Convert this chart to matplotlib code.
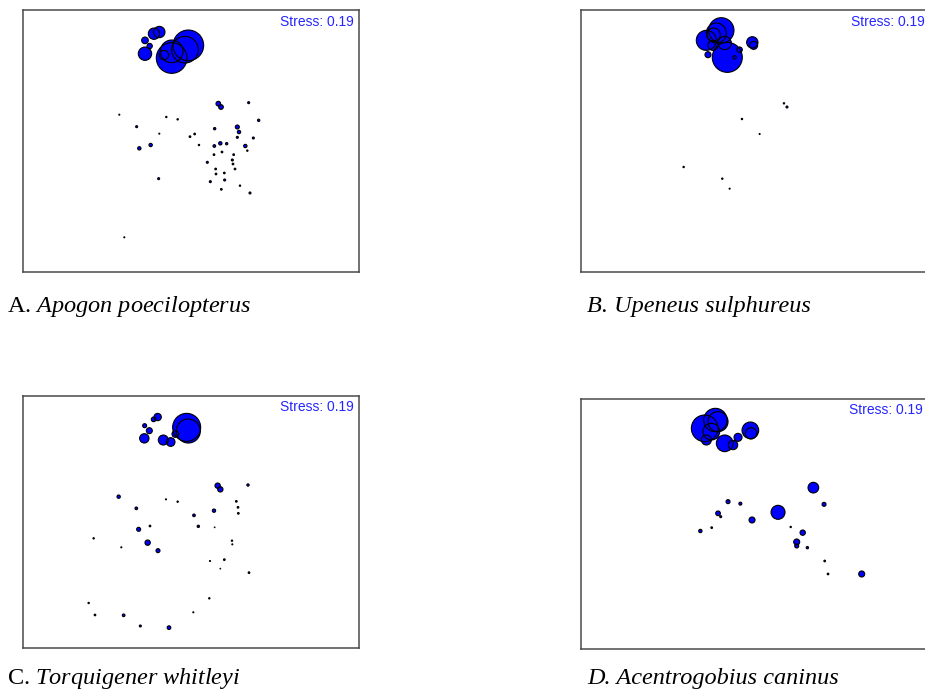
import matplotlib
matplotlib.use("Agg")
import matplotlib.pyplot as plt
import numpy as np

plt.rcParams['mathtext.fontset'] = 'custom'
plt.rcParams['mathtext.rm'] = 'Liberation Serif'
plt.rcParams['mathtext.it'] = 'Liberation Serif:italic'

stress = "Stress: 0.19"

# ---- Panel A: Apogon poecilopterus (MDS coordinates, bubble radius ~ abundance)
a_x = [505, 495, 455, 455, 432, 418, 402, 375, 389, 375,
       595, 603, 686, 716, 298, 439, 473, 350, 418, 584, 652, 657, 524, 510,
       652, 700, 358, 392, 537, 583, 601, 620, 676, 682, 606, 582, 641, 562,
       637, 639, 587, 645, 588, 613, 416, 614, 571, 660, 604, 690, 313]
a_y = [112, 125, 150, 130, 141, 72, 77, 97, 114, 137,
       287, 297, 284, 337, 320, 327, 334, 356, 377, 362, 357, 372, 378, 386,
       388, 390, 421, 411, 411, 414, 406, 407, 414, 428, 432, 440, 440, 463,
       456, 468, 483, 483, 498, 495, 512, 516, 521, 533, 544, 555, 688]
a_r = [46, 40, 46, 34, 14, 17, 17, 10, 8, 20,
       7, 7, 3, 3.5, 1.5, 2, 2, 3, 1.5, 3.5, 6, 5, 2.5, 2.5,
       3, 3, 5, 5, 2, 4, 5, 3.5, 5, 2, 2.5, 2.5, 2.5, 3,
       3, 2.5, 2.5, 2.5, 2.5, 2.5, 3, 3, 3, 2, 2.5, 3, 1.5]

# ---- Panel B: Upeneus sulphureus
b_x = [385, 430, 415, 407, 448, 405, 440, 390, 485, 470, 523, 527,
       618, 627, 492, 545, 317, 433, 455]
b_y = [97, 67, 75, 80, 148, 112, 105, 140, 125, 148, 103, 112,
       286, 297, 333, 378, 477, 512, 542]
b_r = [30, 38, 30, 20, 45, 15, 20, 9, 8, 5, 17, 12,
       2, 3, 2, 1.5, 2, 2, 1.5]

# ---- Panel C: Torquigener whitleyi
c_x = [500, 505, 466, 452, 430, 373, 388, 374, 413, 401,
       593, 601, 684, 296, 438, 473, 649, 654, 655, 349, 582, 522, 390, 535,
       584, 356, 221, 636, 637, 383, 304, 414, 570, 613, 601, 687, 568, 206,
       520, 225, 311, 361, 447]
c_y = [97, 108, 117, 141, 135, 130, 107, 92, 66, 73,
       272, 283, 270, 305, 313, 320, 319, 337, 355, 340, 347, 361, 393, 394,
       397, 403, 430, 437, 448, 443, 457, 467, 498, 494, 521, 533, 610, 624,
       652, 660, 661, 693, 698]
c_r = [42, 36, 10, 13, 15, 14, 9, 6, 11, 7,
       8, 8, 3.5, 5, 1.5, 2, 2.5, 2.5, 2.5, 4, 5, 4, 2.5, 3.5,
       1, 6, 2, 2, 1.5, 8, 1.5, 6, 1.5, 2.5, 1, 2.5, 2, 2,
       1.5, 2.5, 4, 3, 5.5]

# ---- Panel D: Acentrogobius caninus
d_x = [380, 412, 420, 400, 385, 440, 465, 480, 517, 519,
       706, 738, 450, 487, 420, 428, 600, 522, 367, 401, 638, 674, 656, 656,
       688, 740, 750, 851]
d_y = [100, 75, 80, 110, 135, 145, 150, 127, 106, 115,
       278, 328, 320, 326, 355, 365, 352, 375, 408, 398, 396, 413, 441, 453,
       458, 498, 537, 537]
d_r = [40, 35, 30, 25, 15, 25, 14, 12, 25, 17,
       16, 6, 6, 4.5, 7, 3, 21, 9, 5, 2.5, 2, 8, 9, 6,
       3.5, 2.5, 2.5, 9]

# labels
lab_letters = ["A.", "B.", "C.", "D."]
lab_species = ["Apogon poecilopterus", "Upeneus sulphureus",
               "Torquigener whitleyi", "Acentrogobius caninus"]
lab_italic_letter = [False, True, False, True]

W, H = 925, 690
fig = plt.figure(figsize=(W / 100, H / 100), dpi=100)

def px_axes(left, top, width, height):
    return fig.add_axes([left / W, 1 - (top + height) / H, width / W, height / H])

# panel frames in pixels and their extents in the reading units (x0, x1, ytop, ybottom)
panels = [
    (23.3, 9.7, 335.7, 262.6, (10, 1017, 5, 793), a_x, a_y, a_r, 5.7, 12.3),
    (581.3, 9.7, 348.0, 262.6, (10, 1054, 5, 793), b_x, b_y, b_r, 4.6, 12.3),
    (23.3, 395.7, 335.7, 252.6, (10, 1017, 2, 760), c_x, c_y, c_r, 5.7, 11.6),
    (580.7, 399.0, 348.0, 250.3, (8, 1052, 12, 763), d_x, d_y, d_r, 5.7, 11.0),
]

for (l, t, w, h, lim, xs, ys, rs, dx, dy) in panels:
    ax = px_axes(l, t, w, h)
    ax.set_xlim(lim[0], lim[1])
    ax.set_ylim(lim[3], lim[2])
    ax.set_xticks([])
    ax.set_yticks([])
    for sp in ax.spines.values():
        sp.set_color('#4a4a4a')
        sp.set_linewidth(1.1)
    # reading units are 3x pixels -> radius in px = r/3 ; marker diameter in points
    scale_x = w / (lim[1] - lim[0])
    diam_pt = np.array(rs) * 2 * scale_x * 0.72
    s = diam_pt ** 2
    ax.scatter(xs, ys, s=s, facecolor='#0000ff', edgecolor='none', zorder=2)
    ax.scatter(xs, ys, s=s, facecolor='none', edgecolor='black',
               linewidth=0.8, zorder=3)
    ax.annotate(stress, xy=(1, 1), xycoords='axes fraction',
                xytext=(-dx * 0.72, -dy * 0.72), textcoords='offset points',
                ha='right', va='center', color='#2525ff',
                fontsize=10, family='Liberation Sans')

label_pos = [(7, 312), (587, 312), (7, 684), (587, 684)]
for (x, y), let, sp, itl in zip(label_pos, lab_letters, lab_species, lab_italic_letter):
    if itl:
        fig.text(x / W, 1 - y / H, f"{let} {sp}", fontsize=17.5,
                 family='Liberation Serif', style='italic', va='baseline')
    else:
        spm = sp.replace(" ", r"\ ")
        fig.text(x / W, 1 - y / H, f"{let} $\\mathit{{{spm}}}$", fontsize=17.5,
                 family='Liberation Serif', va='baseline')

fig.savefig("out.png", dpi=100)
